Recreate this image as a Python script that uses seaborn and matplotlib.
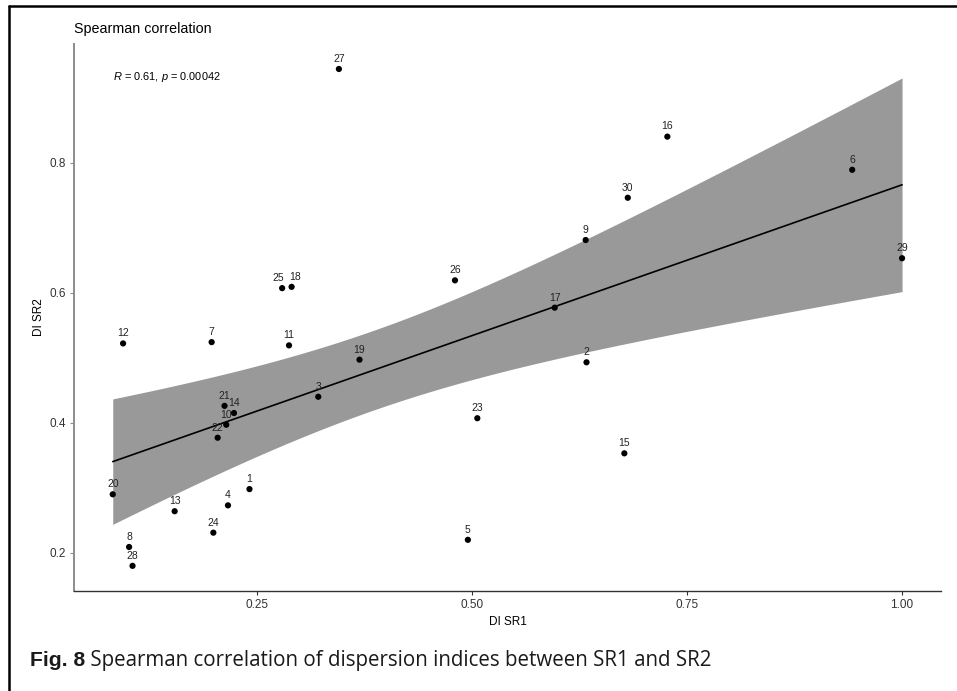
import numpy as np
import pandas as pd
import matplotlib
matplotlib.use("Agg")
import matplotlib.pyplot as plt
from matplotlib.lines import Line2D
import seaborn as sns

# values (sample id, DI of SR1, DI of SR2)
sample_id = list(range(1, 31))
di_sr1 = [0.241, 0.633, 0.321, 0.216, 0.495, 0.942, 0.197, 0.101, 0.632, 0.214,
          0.287, 0.094, 0.154, 0.223, 0.677, 0.727, 0.596, 0.290, 0.369, 0.082,
          0.212, 0.204, 0.506, 0.199, 0.279, 0.480, 0.345, 0.105, 1.000, 0.681]
di_sr2 = [0.298, 0.493, 0.440, 0.273, 0.220, 0.789, 0.524, 0.209, 0.681, 0.397,
          0.519, 0.522, 0.264, 0.415, 0.353, 0.840, 0.577, 0.609, 0.497, 0.290,
          0.426, 0.377, 0.407, 0.231, 0.607, 0.619, 0.944, 0.180, 0.653, 0.746]
cor_text = r"$\it{R}$ = 0.61, $\it{p}$ = 0.00042"

df = pd.DataFrame({"id": sample_id, "DI SR1": di_sr1, "DI SR2": di_sr2})

sns.set_theme(style="white")
plt.rcParams["font.family"] = ["Liberation Sans", "DejaVu Sans"]
plt.rcParams["mathtext.fontset"] = "custom"
plt.rcParams["mathtext.rm"] = "Liberation Sans"
plt.rcParams["mathtext.it"] = "Liberation Sans:italic"

fig = plt.figure(figsize=(9.57, 6.91), dpi=100)
ax = fig.add_axes([0.0773, 0.1447, 0.9060, 0.7916])

# confidence band of the linear fit (t-based, like geom_smooth lm)
x = df["DI SR1"].to_numpy()
y = df["DI SR2"].to_numpy()
n = len(x)
b1, b0 = np.polyfit(x, y, 1)
resid = y - (b0 + b1 * x)
s = np.sqrt((resid ** 2).sum() / (n - 2))
grid = np.linspace(x.min(), x.max(), 100)
se = s * np.sqrt(1 / n + (grid - x.mean()) ** 2 / ((x - x.mean()) ** 2).sum())
tq = 2.048  # t(0.975, df=28)
fit = b0 + b1 * grid
ax.fill_between(grid, fit - tq * se, fit + tq * se, color="#999999", lw=0, zorder=1)

sns.regplot(data=df, x="DI SR1", y="DI SR2", scatter=False, ci=None, ax=ax,
            line_kws=dict(color="black", lw=1.2, zorder=2))
sns.scatterplot(data=df, x="DI SR1", y="DI SR2", color="black", s=20,
                edgecolor="none", ax=ax, zorder=3)

# small sideways nudges where two labels would sit on top of each other
nudge = {25: -2.5, 18: 2.5}
for sid, xv, yv in zip(sample_id, di_sr1, di_sr2):
    ax.annotate(str(sid), (xv, yv), xytext=(nudge.get(sid, 0), 7.3),
                textcoords="offset points", ha="center", va="center",
                fontsize=7.5, color="#222222", zorder=4)

ax.text(0.0822, 0.932, cor_text, ha="left", va="center", fontsize=7.9, color="black")

ax.set_xlim(0.0369, 1.0453)
ax.set_ylim(0.1413, 0.9824)
ax.set_xticks([0.25, 0.50, 0.75, 1.00])
ax.set_xticklabels(["0.25", "0.50", "0.75", "1.00"])
ax.set_yticks([0.2, 0.4, 0.6, 0.8])
ax.set_yticklabels(["0.2", "0.4", "0.6", "0.8"])
ax.set_xlabel("DI SR1", fontsize=8.5, color="black", labelpad=3)
ax.set_ylabel("DI SR2", fontsize=8.5, color="black", labelpad=3)
ax.set_title("Spearman correlation", loc="left", fontsize=10.3, color="black", pad=8)

for side in ["top", "right"]:
    ax.spines[side].set_visible(False)
ax.spines["left"].set_color("#8c8c8c")
ax.spines["bottom"].set_color("#333333")
ax.spines["left"].set_linewidth(1.4)
ax.spines["bottom"].set_linewidth(1.0)
ax.tick_params(axis="both", which="major", length=3, width=0.8, labelsize=8.5,
               labelcolor="#333333", pad=3)
ax.tick_params(axis="y", color="#8c8c8c", left=True)
ax.tick_params(axis="x", color="#333333", bottom=True)

# frame of the figure panel (top and left edges)
fig.add_artist(Line2D([0.0099, 1.0], [0.9906, 0.9906], color="black", lw=1.8,
                      transform=fig.transFigure))
fig.add_artist(Line2D([0.0099, 0.0099], [0.0, 0.9906], color="black", lw=1.8,
                      transform=fig.transFigure))

# caption: bold label, then the rest on the same baseline
cap_y = 0.0366
cap = fig.text(0.031, cap_y, "Fig. 8", fontsize=15.2, fontweight="bold",
               color="#1a1a1a", ha="left", va="baseline")
bb = cap.get_window_extent(renderer=fig.canvas.get_renderer())
fig.text(bb.x1 / fig.bbox.width, cap_y,
         " Spearman correlation of dispersion indices between SR1 and SR2",
         ha="left", va="baseline", fontsize=14.8, color="#1a1a1a",
         family=["Open Sans", "DejaVu Sans"])

fig.savefig("out.png", dpi=100)
